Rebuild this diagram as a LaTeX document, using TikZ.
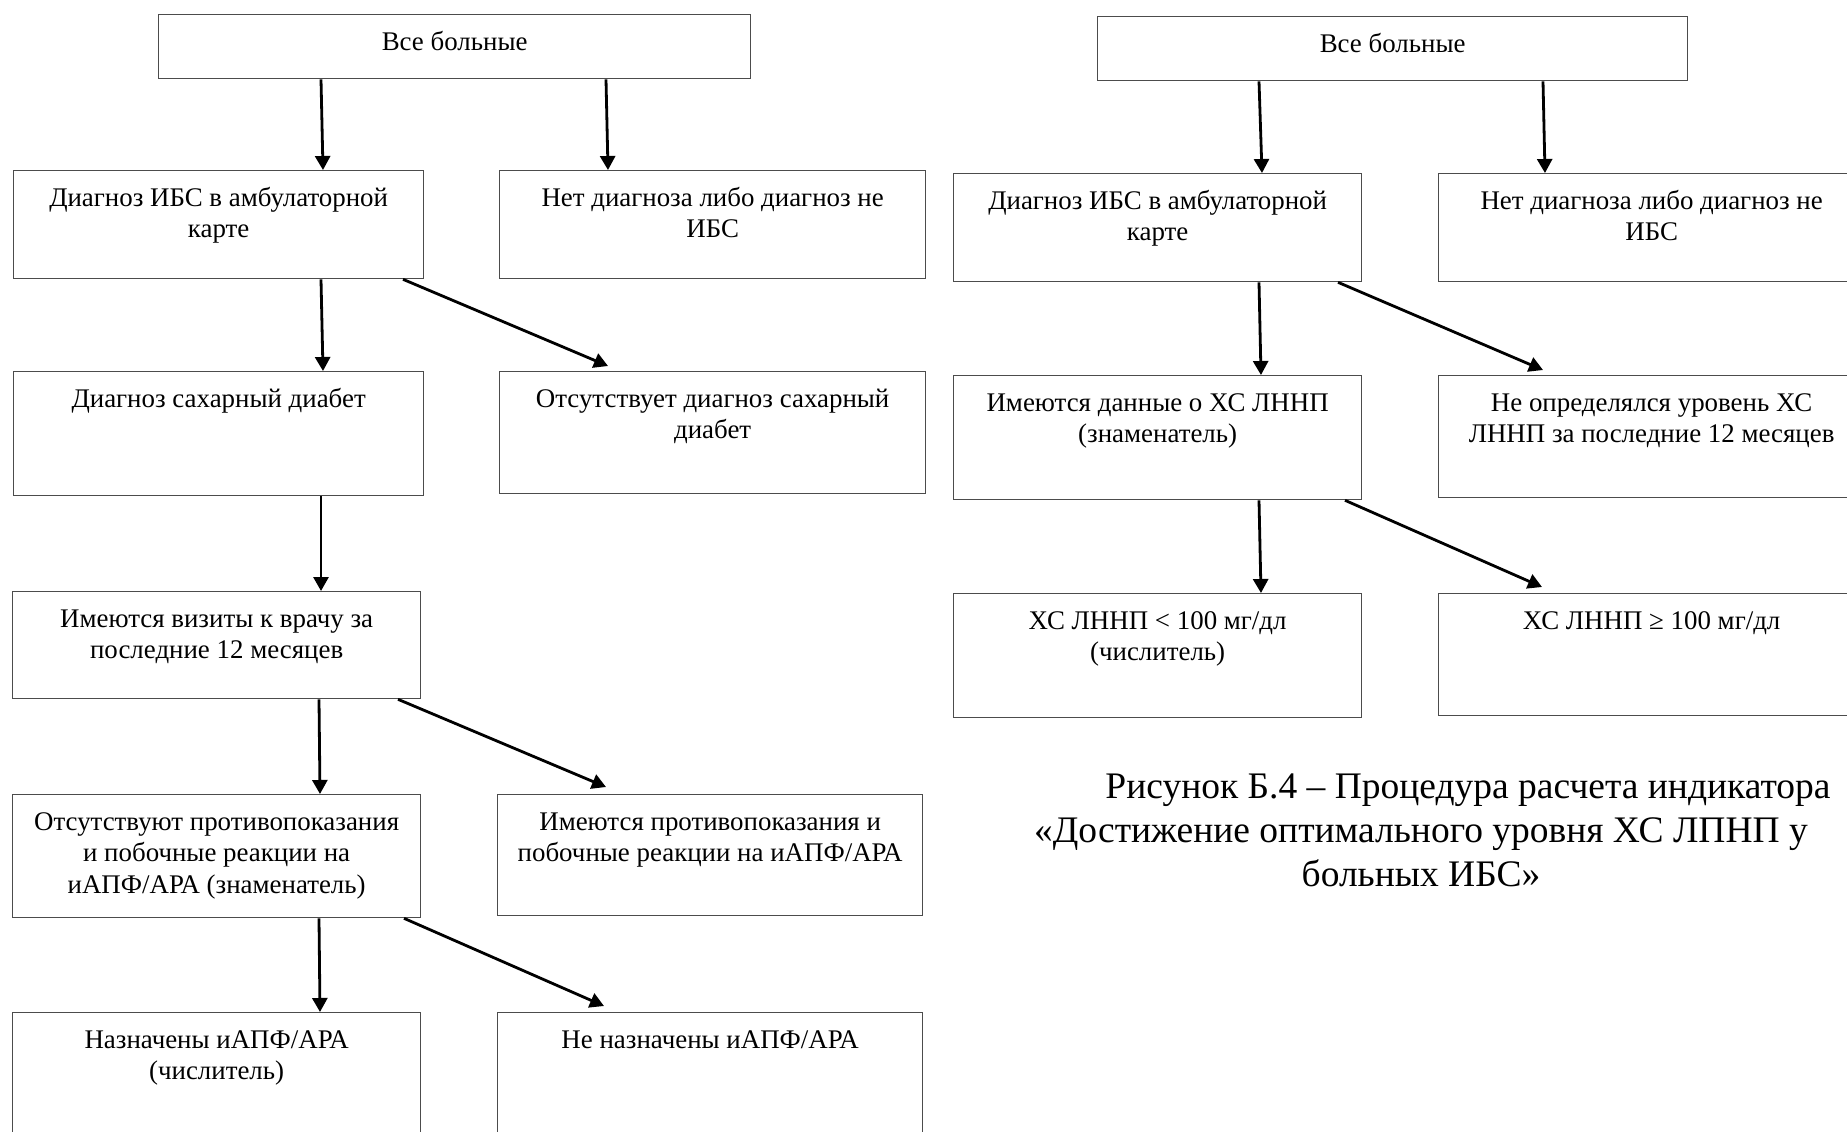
\documentclass[tikz,border=0pt]{standalone}
\usepackage{fontspec}
\setmainfont{Liberation Serif}
\usetikzlibrary{arrows.meta}
\tikzset{
  boxst/.style={draw=black!70, line width=0.65pt, inner sep=0pt, anchor=north west, fill=white},
  arr/.style={line width=1.4pt, -{Triangle[length=7pt,width=7.5pt]}},
  captst/.style={inner sep=0pt, anchor=north}
}
\newcommand\flowbox[6]{\node[boxst] (#1) at (#2,#3) {\parbox[c][\dimexpr(#5pt-#3pt)/2\relax][t]{\dimexpr(#4pt-#2pt)/2\relax}{\centering\fontsize{13.45}{15.8}\selectfont\rule{0pt}{17.8pt}#6\par}};}
\begin{document}
\begin{tikzpicture}[x=0.5pt,y=-0.5pt]
\useasboundingbox (0,0) rectangle (1847,1131);
\fill[white] (0,0) rectangle (1847,1131);
\clip (0,0) rectangle (1847,1131);
% left chart
\flowbox{A1}{158}{14}{750}{78}{Все больные}
\flowbox{B1}{13}{170}{423}{278}{Диагноз ИБС в амбулаторной\\карте}
\flowbox{C1}{499}{170}{925}{278}{Нет диагноза либо диагноз не\\ИБС}
\flowbox{D1}{13}{371}{423}{495}{Диагноз сахарный диабет}
\flowbox{E1}{499}{371}{925}{493}{Отсутствует диагноз сахарный\\диабет}
\flowbox{F1}{12}{591}{420}{698}{Имеются визиты к врачу за\\последние 12 месяцев}
\flowbox{G1}{12}{794}{420}{917}{Отсутствуют противопоказания\\и побочные реакции на\\иАПФ/АРА (знаменатель)}
\flowbox{H1}{497}{794}{922}{915}{Имеются противопоказания и\\побочные реакции на иАПФ/АРА}
\flowbox{I1}{12}{1012}{420}{1145}{Назначены иАПФ/АРА\\(числитель)}
\flowbox{J1}{497}{1012}{922}{1145}{Не назначены иАПФ/АРА}
% right chart
\flowbox{A2}{1097}{16}{1687}{80}{Все больные}
\flowbox{B2}{953}{173}{1361}{281}{Диагноз ИБС в амбулаторной\\карте}
\flowbox{C2}{1438}{173}{1864}{281}{Нет диагноза либо диагноз не\\ИБС}
\flowbox{D2}{953}{375}{1361}{499}{Имеются данные о ХС ЛННП\\(знаменатель)}
\flowbox{E2}{1438}{375}{1864}{497}{Не определялся уровень ХС\\ЛННП за последние 12 месяцев}
\flowbox{F2}{953}{593}{1361}{717}{ХС ЛННП < 100 мг/дл\\(числитель)}
\flowbox{G2}{1438}{593}{1864}{715}{ХС ЛННП ≥ 100 мг/дл}
% caption
\node[captst] (cap) at (1421,758) {\parbox{480pt}{\centering\fontsize{18.75}{22}\selectfont\rule{0pt}{20pt}\hspace*{47pt}Рисунок Б.4 – Процедура расчета индикатора\\«Достижение оптимального уровня ХС ЛПНП у\\больных ИБС»\par}};
% arrow tips for slanted connectors
\coordinate (tE1) at (608,366);
\coordinate (tH1) at (606,787);
\coordinate (tJ1) at (604,1006);
\coordinate (tE2) at (1543,370);
\coordinate (tG2) at (1542,587);
% left arrows
\draw[arr] (A1.south -| 321,0) -- (B1.north -| 323,0);
\draw[arr] (A1.south -| 606,0) -- (C1.north -| 608,0);
\draw[arr] (B1.south -| 321,0) -- (D1.north -| 323,0);
\draw[arr] (B1.south -| 403,0) -- (tE1);
\draw[arr] (D1.south -| 321,0) -- (F1.north -| 321,0);
\draw[arr] (F1.south -| 319,0) -- (G1.north -| 320,0);
\draw[arr] (F1.south -| 398,0) -- (tH1);
\draw[arr] (G1.south -| 319,0) -- (I1.north -| 320,0);
\draw[arr] (G1.south -| 404,0) -- (tJ1);
% right arrows
\draw[arr] (A2.south -| 1259,0) -- (B2.north -| 1262,0);
\draw[arr] (A2.south -| 1543,0) -- (C2.north -| 1545,0);
\draw[arr] (B2.south -| 1259,0) -- (D2.north -| 1261,0);
\draw[arr] (B2.south -| 1338,0) -- (tE2);
\draw[arr] (D2.south -| 1259,0) -- (F2.north -| 1261,0);
\draw[arr] (D2.south -| 1345,0) -- (tG2);
\end{tikzpicture}
\end{document}
